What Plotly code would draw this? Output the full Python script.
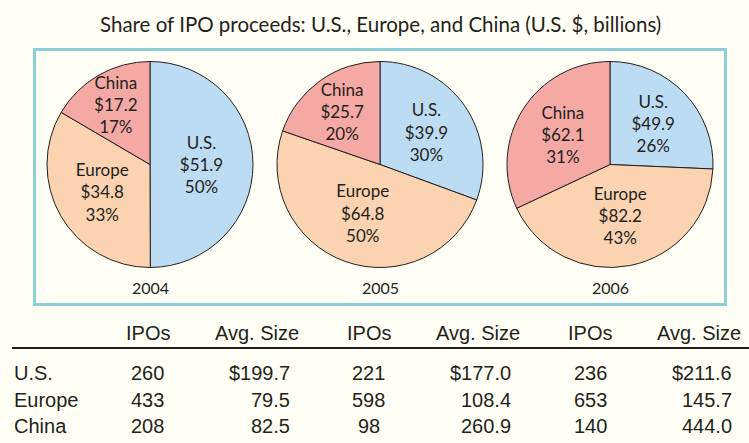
import plotly.graph_objects as go

# Regions and colours shared by all three pies
regions = ["U.S.", "Europe", "China"]
region_colors = ["#bcdcf3", "#fcd3b0", "#f5a9a4"]

# IPO proceeds (U.S. $, billions) and stated shares by year
years = ["2004", "2005", "2006"]
proceeds_2004 = [51.9, 34.8, 17.2]
proceeds_2005 = [39.9, 64.8, 25.7]
proceeds_2006 = [49.9, 82.2, 62.1]
shares_2004 = ["50%", "33%", "17%"]
shares_2005 = ["30%", "50%", "20%"]
shares_2006 = ["26%", "43%", "31%"]

# Table below the pies
table_header = ["IPOs", "Avg. Size", "IPOs", "Avg. Size", "IPOs", "Avg. Size"]
ipos_us = ["260", "221", "236"]
ipos_europe = ["433", "598", "653"]
ipos_china = ["208", "98", "140"]
avg_us = ["$199.7", "$177.0", "$211.6"]
avg_europe = ["79.5", "108.4", "145.7"]
avg_china = ["82.5", "260.9", "444.0"]

W, H = 749, 443
INK = "#231f20"
BG = "#fffff5"
BOX = "#8ccfd8"
PIE_FONT = "Lato"
TABLE_FONT = "Liberation Sans, Arial, sans-serif"


def px(x):
    return x / W


def py(y):
    return 1 - y / H


pie_values = [proceeds_2004, proceeds_2005, proceeds_2006]
pie_shares = [shares_2004, shares_2005, shares_2006]
pie_centers = [150, 380, 610]
pie_cy = 164.5
pie_r = 103

fig = go.Figure()
for vals, shares, cx in zip(pie_values, pie_shares, pie_centers):
    fig.add_trace(go.Pie(
        labels=regions,
        values=vals,
        customdata=shares,
        sort=False,
        direction="clockwise",
        rotation=0,
        marker=dict(colors=region_colors, line=dict(color=INK, width=1)),
        texttemplate="%{label}<br>$%{value:.1f}<br>%{customdata}",
        textposition="inside",
        insidetextorientation="horizontal",
        textfont=dict(family=PIE_FONT, size=17, color=INK),
        hoverinfo="label+value",
        showlegend=False,
        domain=dict(x=[px(cx - pie_r), px(cx + pie_r)],
                    y=[py(pie_cy + pie_r), py(pie_cy - pie_r)]),
    ))

annotations = []
# Chart title
annotations.append(dict(
    text="Share of IPO proceeds: U.S., Europe, and China (U.S. $, billions)",
    x=px(380), y=py(24), xref="paper", yref="paper",
    xanchor="center", yanchor="middle", showarrow=False,
    font=dict(family=PIE_FONT, size=20.5, color=INK)))

# Year under each pie
for yr, cx in zip(years, pie_centers):
    annotations.append(dict(
        text=yr, x=px(cx), y=py(287), xref="paper", yref="paper",
        xanchor="center", yanchor="middle", showarrow=False,
        font=dict(family=PIE_FONT, size=16, color=INK)))

# Table header
ipo_centers = [147.5, 368.75, 590]
avg_head_right = [301, 522, 743]
avg_val_right = [292, 513, 734]
head_y = 333
for i in range(3):
    annotations.append(dict(
        text=table_header[2 * i], x=px(ipo_centers[i]), y=py(head_y),
        xref="paper", yref="paper", xanchor="center", yanchor="middle",
        showarrow=False, font=dict(family=TABLE_FONT, size=20, color=INK)))
    annotations.append(dict(
        text=table_header[2 * i + 1], x=px(avg_head_right[i]), y=py(head_y),
        xref="paper", yref="paper", xanchor="right", yanchor="middle",
        showarrow=False, font=dict(family=TABLE_FONT, size=20, color=INK)))

# Table body
rows = [(regions[0], ipos_us, avg_us, 373),
        (regions[1], ipos_europe, avg_europe, 400),
        (regions[2], ipos_china, avg_china, 426)]
for name, ipos, avgs, ry in rows:
    annotations.append(dict(
        text=name, x=px(12), y=py(ry), xref="paper", yref="paper",
        xanchor="left", yanchor="middle", showarrow=False,
        font=dict(family=TABLE_FONT, size=20, color=INK)))
    for i in range(3):
        annotations.append(dict(
            text=ipos[i], x=px(ipo_centers[i]), y=py(ry),
            xref="paper", yref="paper", xanchor="center", yanchor="middle",
            showarrow=False, font=dict(family=TABLE_FONT, size=20, color=INK)))
        annotations.append(dict(
            text=avgs[i], x=px(avg_val_right[i]), y=py(ry),
            xref="paper", yref="paper", xanchor="right", yanchor="middle",
            showarrow=False, font=dict(family=TABLE_FONT, size=20, color=INK)))

shapes = [
    # frame around the pies
    dict(type="rect", xref="paper", yref="paper",
         x0=px(34.5), x1=px(725.5), y0=py(304.5), y1=py(49.5),
         line=dict(color=BOX, width=3), fillcolor="rgba(0,0,0,0)", layer="below"),
    # rule under the table header
    dict(type="line", xref="paper", yref="paper",
         x0=px(12), x1=px(749), y0=py(348), y1=py(348),
         line=dict(color=INK, width=1.8)),
]

fig.update_layout(
    width=W, height=H,
    margin=dict(l=0, r=0, t=0, b=0),
    paper_bgcolor=BG, plot_bgcolor=BG,
    annotations=annotations, shapes=shapes,
    uniformtext=dict(minsize=17, mode="show"),
)

fig.write_html("out.html")
